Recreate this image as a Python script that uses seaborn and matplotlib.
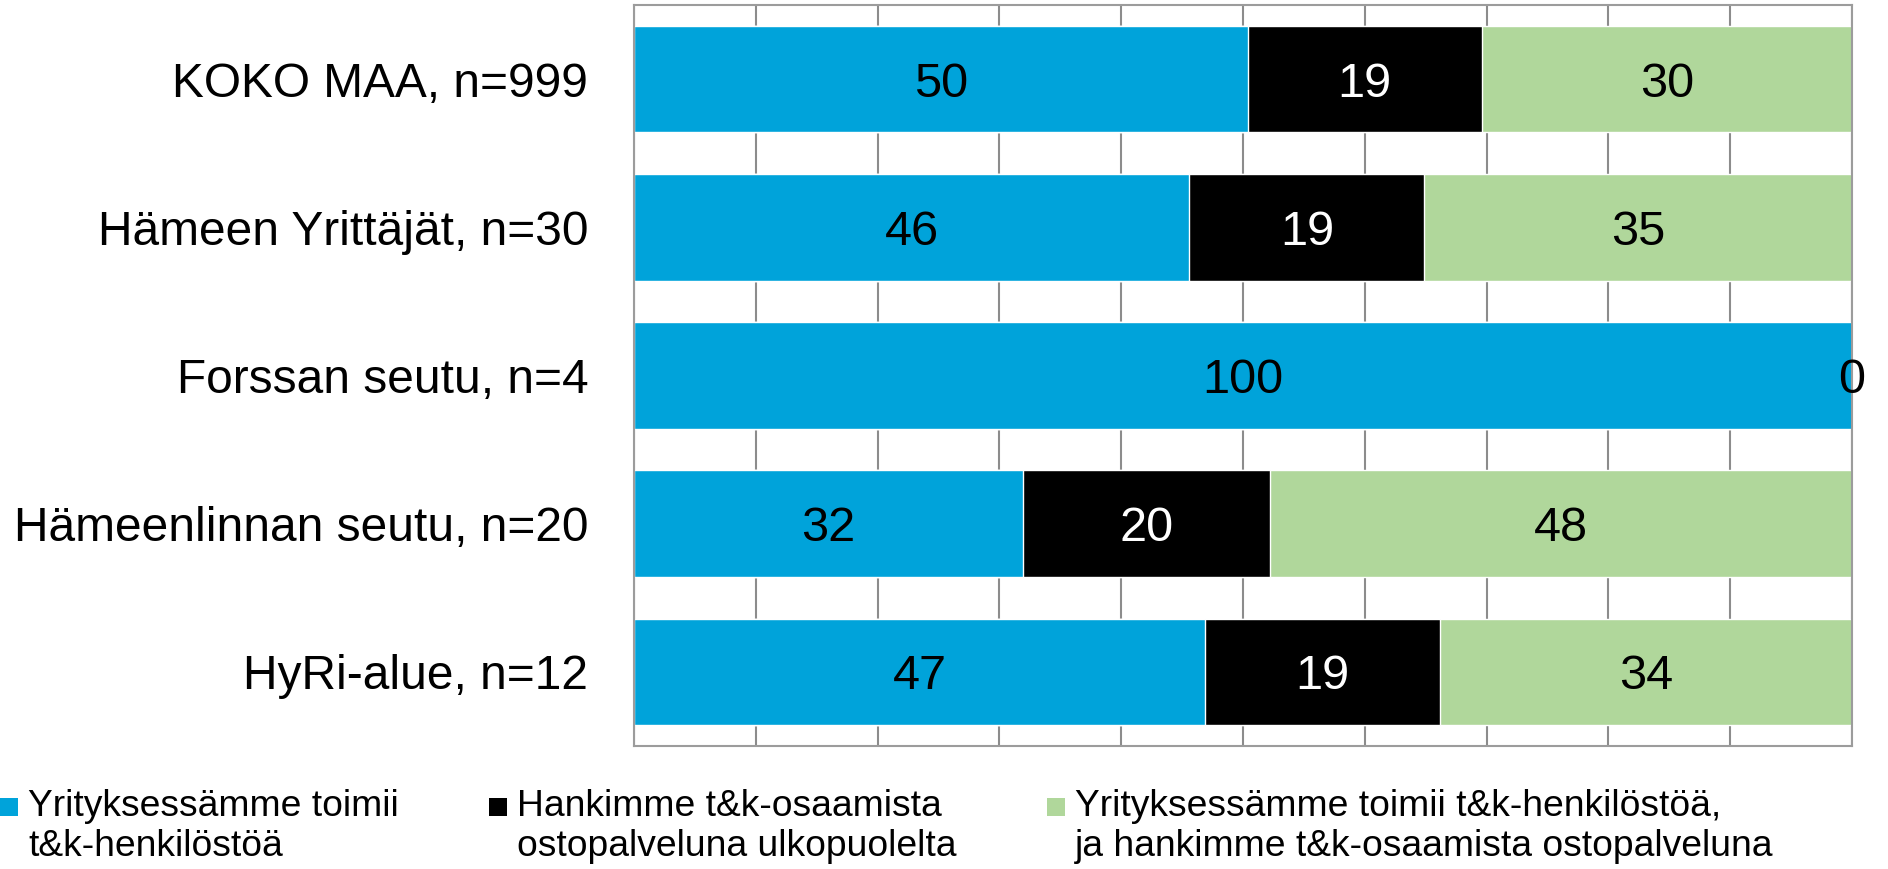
import numpy as np
import pandas as pd
import matplotlib.pyplot as plt
from matplotlib.patches import Rectangle
import seaborn as sns

# data (percent shares)
regions = ['KOKO MAA, n=999', 'Hämeen Yrittäjät, n=30', 'Forssan seutu, n=4',
           'Hämeenlinnan seutu, n=20', 'HyRi-alue, n=12']
in_house = [50.4, 45.6, 100.0, 31.9, 46.9]
outsourced = [19.2, 19.3, 0.0, 20.3, 19.3]
both = [30.4, 35.1, 0.0, 47.8, 33.8]
show_outsourced = [True, True, False, True, True]

series_names = ['Yrityksessämme toimii\nt&k-henkilöstöä',
                'Hankimme t&k-osaamista\nostopalveluna ulkopuolelta',
                'Yrityksessämme toimii t&k-henkilöstöä,\nja hankimme t&k-osaamista ostopalveluna']
colors = ['#00a3da', '#000000', '#b0d79b']
label_colors = ['black', 'white', 'black']

df = pd.DataFrame({'region': regions, 'a': in_house, 'b': outsourced, 'c': both})
df['ab'] = df['a'] + df['b']
df['abc'] = df['ab'] + df['c']

sns.set_style('white')
plt.rcParams['font.family'] = ['Liberation Sans', 'DejaVu Sans']
plt.rcParams['text.color'] = 'black'

W, H = 1888, 869
fig = plt.figure(figsize=(W / 100, H / 100), dpi=100)
ax = fig.add_axes([634 / W, 1 - 746 / H, (1852 - 634) / W, (746 - 5) / H])

# stacked bars: draw cumulative totals, longest first
for col, color in zip(['abc', 'ab', 'a'], colors[::-1]):
    sns.barplot(data=df, x=col, y='region', color=color, saturation=1,
                width=0.72, edgecolor='white', linewidth=1, orient='h', ax=ax)

# segment labels
lefts = [np.zeros(len(df)), df['a'].values, df['ab'].values]
vals = [df['a'].values, df['b'].values, df['c'].values]
for k in range(3):
    for i in range(len(df)):
        if k == 1 and not show_outsourced[i]:
            continue
        ax.text(lefts[k][i] + vals[k][i] / 2, i, f'{vals[k][i]:.0f}',
                ha='center', va='center_baseline', fontsize=35,
                color=label_colors[k])

ax.set_xlim(0, 100)
ax.set_ylim(len(df) - 0.5, -0.5)
ax.set_xticks(np.arange(0, 101, 10))
ax.set_xticklabels([])
ax.xaxis.grid(True, color='#8c8c8c', lw=1.5)
ax.set_axisbelow(True)
ax.set_xlabel('')
ax.set_ylabel('')
ax.tick_params(axis='x', length=0)
ax.tick_params(axis='y', length=0, pad=33, labelsize=34.5, labelcolor='black')
for s in ax.spines.values():
    s.set_visible(True)
    s.set_color('#9c9c9c')
    s.set_linewidth(1.5)

# legend drawn by hand, three entries in a row
legend_x = [(0, 28), (489, 517), (1047, 1075)]
for (sx, tx), name, color in zip(legend_x, series_names, colors):
    fig.add_artist(Rectangle((sx / W, 1 - 816 / H), 18 / W, 18 / H,
                             transform=fig.transFigure, color=color, lw=0))
    fig.text(tx / W, 1 - 789 / H, name, ha='left', va='top', color='black',
             fontsize=26.8, linespacing=1.2)

fig.savefig('out.png', dpi=100)
